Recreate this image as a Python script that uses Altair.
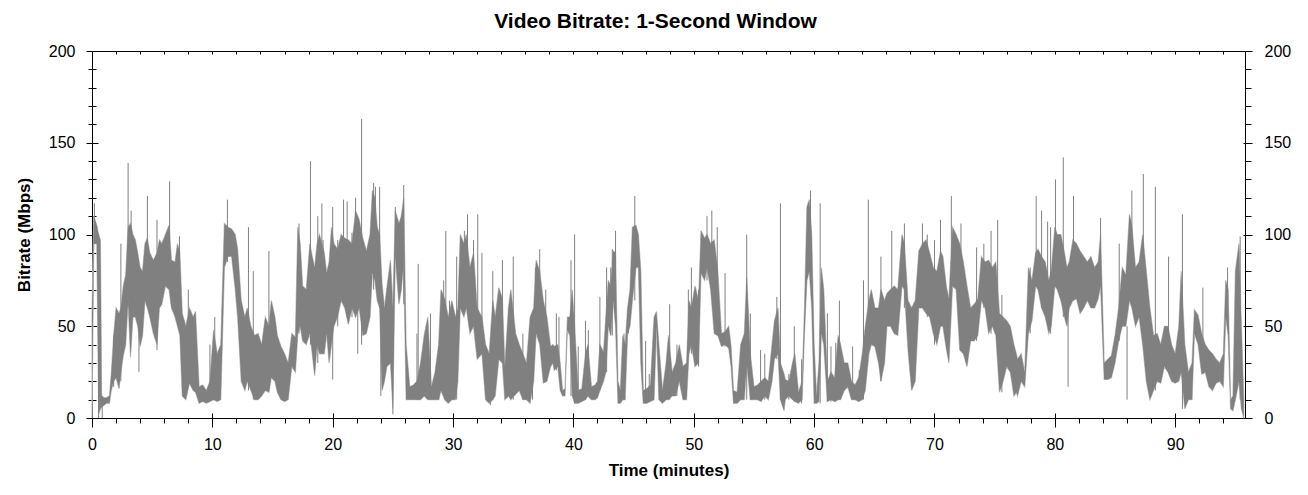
import altair as alt
import pandas as pd

# ---- envelope of the 1-second bitrate trace (minutes, Mbps) ----
T = [0.0, 0.15, 0.4, 0.55, 0.7, 0.8, 1.0, 1.2, 1.45, 1.6, 1.8, 2.0, 2.25, 2.4, 2.6, 2.8, 3.0, 3.2, 3.4, 3.6,
     3.8, 4.0, 4.2, 4.4, 4.6, 4.8, 5.1, 5.4, 5.6, 5.8, 6.1, 6.4, 6.6, 6.9, 7.1, 7.3, 7.5, 7.8, 8.1, 8.4,
     8.6, 8.9, 9.2, 9.5, 9.8, 10.1, 10.4, 10.7, 11.0, 11.3, 11.6, 11.9, 12.1, 12.4, 12.7, 12.9, 13.2, 13.5, 13.8, 14.1,
     14.4, 14.7, 14.9, 15.2, 15.4, 15.7, 16.0, 16.3, 16.6, 16.9, 17.1, 17.3, 17.5, 17.8, 18.1, 18.3, 18.5, 18.7, 18.9, 19.3,
     19.5, 19.7, 19.9, 20.1, 20.4, 20.7, 21.0, 21.3, 21.6, 21.9, 22.2, 22.5, 22.8, 23.1, 23.3, 23.5, 23.7, 23.9, 24.1, 24.3,
     24.5, 24.8, 25.0, 25.2, 25.5, 25.7, 25.9, 26.1, 26.4, 26.7, 27.0, 27.3, 27.6, 27.9, 28.2, 28.5, 28.8, 29.0, 29.3, 29.6,
     29.9, 30.2, 30.4, 30.6, 30.9, 31.1, 31.4, 31.7, 32.0, 32.4, 32.7, 33.0, 33.3, 33.5, 33.8, 34.1, 34.3, 34.6, 34.8, 35.2,
     35.5, 35.8, 36.1, 36.4, 36.7, 36.9, 37.2, 37.5, 37.8, 38.1, 38.3, 38.4, 38.7, 38.9, 39.1, 39.3, 39.5, 39.7, 39.9, 40.1,
     40.4, 40.7, 41.0, 41.2, 41.5, 41.8, 42.0, 42.2, 42.5, 42.7, 42.9, 43.1, 43.3, 43.5, 43.7, 43.9, 44.1, 44.3, 44.5, 44.7,
     44.9, 45.2, 45.4, 45.6, 45.8, 46.1, 46.4, 46.7, 46.9, 47.1, 47.4, 47.7, 47.9, 48.2, 48.5, 48.8, 49.1, 49.4, 49.6, 49.8,
     50.1, 50.4, 50.6, 50.9, 51.1, 51.4, 51.7, 52.0, 52.3, 52.6, 52.9, 53.1, 53.3, 53.6, 53.9, 54.2, 54.4, 54.7, 55.0, 55.3,
     55.6, 55.9, 56.2, 56.5, 56.7, 57.0, 57.2, 57.5, 57.6, 57.9, 58.2, 58.4, 58.7, 59.0, 59.2, 59.4, 59.6, 59.8, 60.0, 60.2,
     60.4, 60.6, 60.8, 61.1, 61.4, 61.7, 62.0, 62.2, 62.5, 62.8, 63.1, 63.4, 63.7, 64.0, 64.25, 64.55, 64.75, 65.05, 65.35, 65.55,
     65.85, 66.05, 66.35, 66.65, 66.95, 67.3, 67.5, 67.8, 68.1, 68.4, 68.7, 69.0, 69.3, 69.6, 69.9, 70.2, 70.5, 70.7, 71.0, 71.2,
     71.5, 71.8, 72.1, 72.4, 72.7, 73.0, 73.3, 73.6, 73.9, 74.2, 74.5, 74.8, 75.1, 75.4, 75.7, 76.0, 76.3, 76.6, 76.8, 76.9,
     77.2, 77.5, 77.8, 78.1, 78.4, 78.6, 78.9, 79.2, 79.5, 79.7, 80.0, 80.2, 80.5, 80.8, 81.0, 81.2, 81.5, 81.8, 82.1, 82.4,
     82.7, 83.0, 83.3, 83.6, 83.8, 84.1, 84.4, 84.7, 85.0, 85.3, 85.6, 85.9, 86.2, 86.4, 86.7, 87.0, 87.3, 87.6, 87.9, 88.2,
     88.5, 88.8, 89.1, 89.4, 89.7, 90.0, 90.3, 90.5, 90.8, 91.1, 91.4, 91.6, 91.9, 92.2, 92.5, 92.8, 93.1, 93.4, 93.7, 94.0,
     94.2, 94.4, 94.6, 94.8, 95.0, 95.3, 95.5, 95.7]
LO = [0, 95, 95, 2, 5, 6, 7, 8, 8, 15, 20, 22, 16, 25, 34, 40, 64, 33, 55, 55,
      50, 39, 45, 64, 60, 55, 46, 40, 60, 62, 72, 70, 60, 55, 50, 45, 12, 10, 19, 15,
      14, 8, 9, 8, 9, 10, 9, 10, 82, 88, 88, 70, 55, 20, 15, 20, 15, 10, 10, 12,
      15, 14, 22, 20, 14, 10, 9, 10, 28, 25, 46, 50, 42, 40, 46, 35, 23, 40, 35, 35,
      46, 30, 40, 50, 55, 64, 60, 51, 60, 55, 60, 45, 46, 55, 79, 75, 64, 60, 15, 20,
      28, 30, 5, 88, 62, 70, 85, 10, 10, 10, 10, 10, 12, 10, 10, 10, 10, 15, 10, 8,
      10, 10, 20, 60, 55, 60, 46, 50, 32, 35, 10, 8, 10, 12, 32, 30, 10, 12, 10, 13,
      15, 10, 10, 8, 20, 46, 40, 19, 20, 28, 30, 26, 28, 15, 12, 12, 48, 45, 12, 8,
      8, 9, 10, 12, 10, 10, 11, 15, 20, 25, 50, 45, 64, 50, 8, 8, 10, 10, 46, 50,
      64, 82, 82, 30, 8, 8, 9, 10, 50, 10, 8, 10, 10, 12, 12, 20, 10, 10, 35, 40,
      28, 30, 79, 75, 82, 70, 46, 45, 39, 40, 38, 28, 8, 8, 10, 10, 30, 10, 10, 10,
      9, 12, 10, 20, 32, 35, 10, 4, 10, 12, 10, 9, 8, 10, 46, 75, 80, 60, 8, 8,
      9, 46, 40, 9, 10, 9, 10, 10, 15, 17, 10, 10, 9, 10, 15, 35, 40, 39, 30, 20,
      30, 50, 50, 46, 45, 72, 70, 37, 15, 20, 60, 60, 57, 55, 46, 40, 50, 50, 37, 30,
      72, 70, 37, 35, 28, 42, 42, 45, 64, 60, 46, 50, 45, 14, 20, 28, 25, 12, 14, 12,
      20, 17, 46, 53, 72, 70, 60, 55, 46, 50, 72, 70, 64, 55, 50, 60, 64, 65, 57, 60,
      64, 60, 60, 65, 72, 21, 21, 22, 30, 42, 50, 50, 64, 60, 50, 55, 40, 20, 10, 15,
      20, 19, 28, 25, 20, 19, 20, 25, 5, 10, 10, 46, 40, 24, 25, 17, 15, 19, 20, 17,
      55, 45, 5, 4, 10, 20, 5, 0]
HI = [57, 110, 105, 100, 97, 12, 11, 11, 12, 24, 45, 60, 57, 60, 72, 78, 104, 106, 100, 97,
      90, 82, 80, 95, 98, 90, 86, 90, 97, 95, 100, 105, 86, 85, 95, 90, 57, 50, 60, 55,
      58, 17, 18, 15, 20, 48, 35, 40, 106, 104, 103, 100, 92, 64, 55, 60, 50, 45, 46, 40,
      55, 50, 64, 55, 45, 39, 35, 30, 46, 44, 104, 95, 72, 70, 95, 88, 82, 95, 100, 90,
      79, 85, 104, 95, 92, 100, 98, 97, 95, 113, 108, 98, 91, 100, 124, 120, 104, 100, 73, 60,
      71, 86, 60, 113, 106, 110, 120, 40, 17, 18, 20, 30, 45, 55, 17, 25, 40, 70, 65, 55,
      64, 55, 60, 100, 95, 100, 82, 90, 60, 55, 40, 35, 64, 55, 71, 65, 28, 60, 70, 46,
      40, 35, 30, 55, 60, 86, 80, 64, 55, 39, 40, 39, 40, 30, 15, 16, 55, 55, 70, 50,
      15, 16, 35, 40, 17, 18, 20, 40, 36, 56, 75, 72, 91, 90, 20, 15, 45, 40, 60, 70,
      104, 105, 100, 80, 15, 16, 18, 55, 58, 40, 15, 30, 45, 25, 30, 40, 28, 30, 64, 60,
      72, 64, 102, 98, 100, 95, 97, 80, 46, 47, 50, 39, 15, 14, 40, 46, 77, 35, 17, 18,
      20, 22, 20, 40, 53, 60, 30, 24, 21, 20, 30, 35, 14, 20, 60, 115, 119, 100, 40, 12,
      30, 82, 70, 20, 25, 22, 45, 40, 30, 30, 20, 18, 22, 35, 50, 64, 70, 60, 60, 70,
      64, 68, 70, 72, 70, 100, 95, 64, 60, 64, 91, 95, 97, 90, 82, 80, 91, 88, 71, 65,
      104, 100, 95, 85, 72, 60, 62, 65, 88, 85, 86, 82, 85, 57, 55, 53, 50, 40, 35, 32,
      35, 25, 82, 75, 90, 92, 88, 85, 75, 80, 104, 100, 100, 90, 82, 85, 97, 95, 91, 88,
      85, 88, 82, 85, 100, 30, 32, 34, 45, 60, 82, 78, 111, 105, 82, 85, 100, 80, 60, 45,
      46, 40, 50, 50, 40, 35, 50, 80, 40, 25, 30, 59, 56, 46, 40, 37, 35, 32, 30, 35,
      75, 70, 10, 12, 80, 95, 50, 10]

# ---- isolated one-second spikes (minutes, bottom Mbps, top Mbps) ----
SPIKE_T = [0.2, 0.55, 0.85, 1.8, 2.4, 3.0, 3.25, 3.9, 4.6, 5.4,
           6.45, 7.27, 8.0, 9.8, 10.2, 11.25, 13.0, 13.4, 14.7, 17.2,
           18.15, 18.76, 19.1, 19.2, 20.0, 20.42, 20.9, 21.2, 21.6, 21.9,
           22.08, 22.4, 23.4, 23.55, 23.9, 24.0, 25.0, 25.2, 25.9, 27.0,
           27.1, 28.12, 28.81, 29.22, 29.4, 29.7, 30.3, 30.94, 31.2, 31.7,
           32.05, 32.4, 33.1, 33.3, 34.1, 35.0, 35.8, 36.6, 36.84, 37.2,
           37.7, 38.58, 38.8, 39.8, 40.1, 40.4, 41.0, 41.24, 42.2, 42.76,
           43.1, 43.23, 43.5, 44.2, 44.56, 45.1, 46.0, 46.3, 48.0, 48.6,
           49.55, 49.8, 50.4, 51.1, 51.5, 51.95, 52.6, 54.4, 54.7, 55.55,
           55.9, 56.9, 57.2, 57.9, 58.35, 58.96, 59.7, 60.5, 61.1, 61.4,
           61.8, 62.1, 63.2, 63.75, 64.1, 64.5, 65.55, 66.45, 67.5, 69.0,
           69.4, 70.0, 70.5, 71.4, 72.2, 73.5, 74.1, 74.7, 75.25, 75.6,
           77.95, 78.45, 78.9, 79.4, 79.65, 80.05, 80.7, 81.1, 81.55, 83.8,
           85.35, 86.0, 86.4, 87.35, 88.35, 89.45, 90.6, 92.3, 94.35, 95.4]
SPIKE_LO = [95, 0, 0, 17, 20, 60, 60, 25, 64, 37,
            70, 50, 20, 9, 10, 85, 15, 10, 15, 46,
            40, 30, 40, 60, 21, 50, 64, 55, 55, 55,
            35, 40, 70, 75, 60, 12, 2, 88, 62, 10,
            10, 10, 10, 15, 10, 10, 10, 60, 60, 50,
            40, 35, 7, 10, 30, 10, 10, 10, 46, 46,
            20, 26, 26, 12, 8, 8, 10, 12, 15, 25,
            45, 45, 60, 10, 46, 64, 8, 9, 10, 12,
            35, 35, 28, 75, 70, 45, 39, 10, 10, 10,
            10, 32, 10, 10, 9, 8, 75, 8, 9, 9,
            9, 10, 10, 10, 10, 35, 20, 50, 60, 60,
            55, 40, 50, 65, 37, 42, 60, 46, 45, 14,
            46, 72, 60, 55, 46, 72, 55, 17, 64, 72,
            42, 10, 64, 40, 15, 25, 5, 24, 55, 10]
SPIKE_HI = [117, 100, 12, 45, 95, 139, 113, 60, 121, 108,
            129, 99, 70, 40, 55, 119, 104, 80, 91, 106,
            140, 110, 117, 97, 115, 97, 119, 118, 101, 120,
            60, 163, 128, 126, 126, 60, 60, 115, 127, 46,
            84, 57, 39, 75, 102, 64, 88, 102, 111, 97,
            111, 90, 30, 80, 86, 88, 46, 57, 82, 92,
            70, 57, 55, 86, 100, 39, 53, 48, 66, 82,
            82, 92, 102, 46, 60, 121, 42, 24, 62, 40,
            70, 82, 70, 110, 113, 104, 79, 100, 57, 37,
            35, 66, 117, 24, 50, 32, 124, 117, 57, 39,
            41, 64, 39, 26, 75, 119, 88, 102, 106, 106,
            100, 97, 108, 121, 106, 93, 95, 102, 108, 67,
            82, 121, 113, 107, 104, 130, 142, 60, 121, 109,
            95, 50, 124, 133, 126, 88, 111, 71, 82, 99]

X_DOMAIN = [0, 95.8]
Y_DOMAIN = [0, 200]
X_TICKS = list(range(0, 96, 2))
X_MAJOR = list(range(0, 91, 10))
Y_TICKS = list(range(0, 201, 10))

TRACE = "#808080"
HALO = "#c4c4c4"
FONT = "Liberation Sans"
W, H = 1153, 367

band_df = pd.DataFrame({"t": T, "lo": LO, "hi": HI})
spike_df = pd.DataFrame({"t": SPIKE_T, "lo": SPIKE_LO, "hi": SPIKE_HI})

x_scale = alt.Scale(domain=X_DOMAIN, nice=False, zero=False)
y_scale = alt.Scale(domain=Y_DOMAIN, nice=False)

x_out = {"condition": {"test": "datum.value % 10 === 0", "value": 9}, "value": 5}
y_out = {"condition": {"test": "datum.value % 50 === 0", "value": 6}, "value": 4}
y_in = {"condition": {"test": "datum.value % 50 === 0", "value": 6}, "value": 4}
yr_out = {"condition": {"test": "datum.value % 50 === 0", "value": 7}, "value": 6}

band = alt.Chart(band_df).mark_area(
    color=TRACE, opacity=1, stroke=HALO, strokeWidth=1.2
).encode(
    x=alt.X("t:Q", scale=x_scale, title="Time (minutes)",
            axis=alt.Axis(values=X_TICKS, tickSize=x_out, labelPadding=9,
                          labelExpr="datum.value % 10 === 0 ? datum.label : ''",
                          grid=False, titleY=52, titleBaseline="middle")),
    y=alt.Y("lo:Q", scale=y_scale, title="Bitrate (Mbps)",
            axis=alt.Axis(values=Y_TICKS, tickSize=y_out, labelPadding=11, orient="left",
                          labelExpr="datum.value % 50 === 0 ? datum.label : ''",
                          grid=False, titleX=-68, titleBaseline="middle")),
    y2="hi:Q",
)

core = alt.Chart(band_df).mark_area(color=TRACE, opacity=1, strokeWidth=0).encode(
    x=alt.X("t:Q", scale=x_scale, axis=None),
    y=alt.Y("lo:Q", scale=y_scale, axis=None),
    y2="hi:Q",
)

spikes = alt.Chart(spike_df).mark_rule(color=TRACE, strokeWidth=1).encode(
    x=alt.X("t:Q", scale=x_scale, axis=None),
    y=alt.Y("lo:Q", scale=y_scale, axis=None),
    y2="hi:Q",
)

# top frame ticks (pointing inward) + right axis with labels
ghost = alt.Chart(band_df).mark_line(opacity=0).encode(
    x=alt.X("t:Q", scale=x_scale, title=None,
            axis=alt.Axis(values=X_TICKS, orient="bottom", offset=-H, labels=False, domain=False,
                          tickSize=3, grid=False)),
    y=alt.Y("hi:Q", scale=y_scale, title=None,
            axis=alt.Axis(values=Y_TICKS, orient="right", tickSize=yr_out, labelPadding=12,
                          labelExpr="datum.value % 50 === 0 ? datum.label : ''", grid=False)),
)

# inward halves of the crossing ticks: bottom majors and left ticks
ghost_in = alt.Chart(band_df).mark_line(opacity=0).encode(
    x=alt.X("t:Q", scale=x_scale, title=None,
            axis=alt.Axis(values=X_MAJOR, orient="top", offset=-H, labels=False, domain=False,
                          tickSize=5, grid=False)),
    y=alt.Y("lo:Q", scale=y_scale, title=None,
            axis=alt.Axis(values=Y_TICKS, orient="right", offset=-W, labels=False, domain=False,
                          tickSize=y_in, grid=False)),
)

# inward halves of the right-hand major ticks
ghost_r = alt.Chart(band_df).mark_line(opacity=0).encode(
    x=alt.X("t:Q", scale=x_scale, axis=None),
    y=alt.Y("lo:Q", scale=y_scale, title=None,
            axis=alt.Axis(values=[0, 50, 100, 150, 200], orient="left", offset=-W, labels=False,
                          domain=False, tickSize=2, grid=False)),
)

chart = alt.layer(band, core, spikes, ghost, ghost_in, ghost_r).resolve_scale(
    x="independent", y="independent"
).properties(
    width=W, height=H,
    background="white",
    title=alt.TitleParams("Video Bitrate: 1-Second Window", fontSize=21, font=FONT,
                          fontWeight="bold", color="black", anchor="middle", dx=-13, offset=11),
    autosize=alt.AutoSizeParams(type="none"),
    padding={"left": 84, "top": 43, "right": 55, "bottom": 69},
).configure_view(
    stroke="black", strokeWidth=1
).configure_axis(
    domainColor="black", tickColor="black", labelColor="black", titleColor="black",
    labelFont=FONT, titleFont=FONT, labelFontSize=16, titleFontSize=17, titleFontWeight="bold",
    labelFontWeight="normal", labelOverlap=False, labelBound=False, labelFlush=False
)

chart.save("out.html", embed_options={"renderer": "svg", "actions": False})
